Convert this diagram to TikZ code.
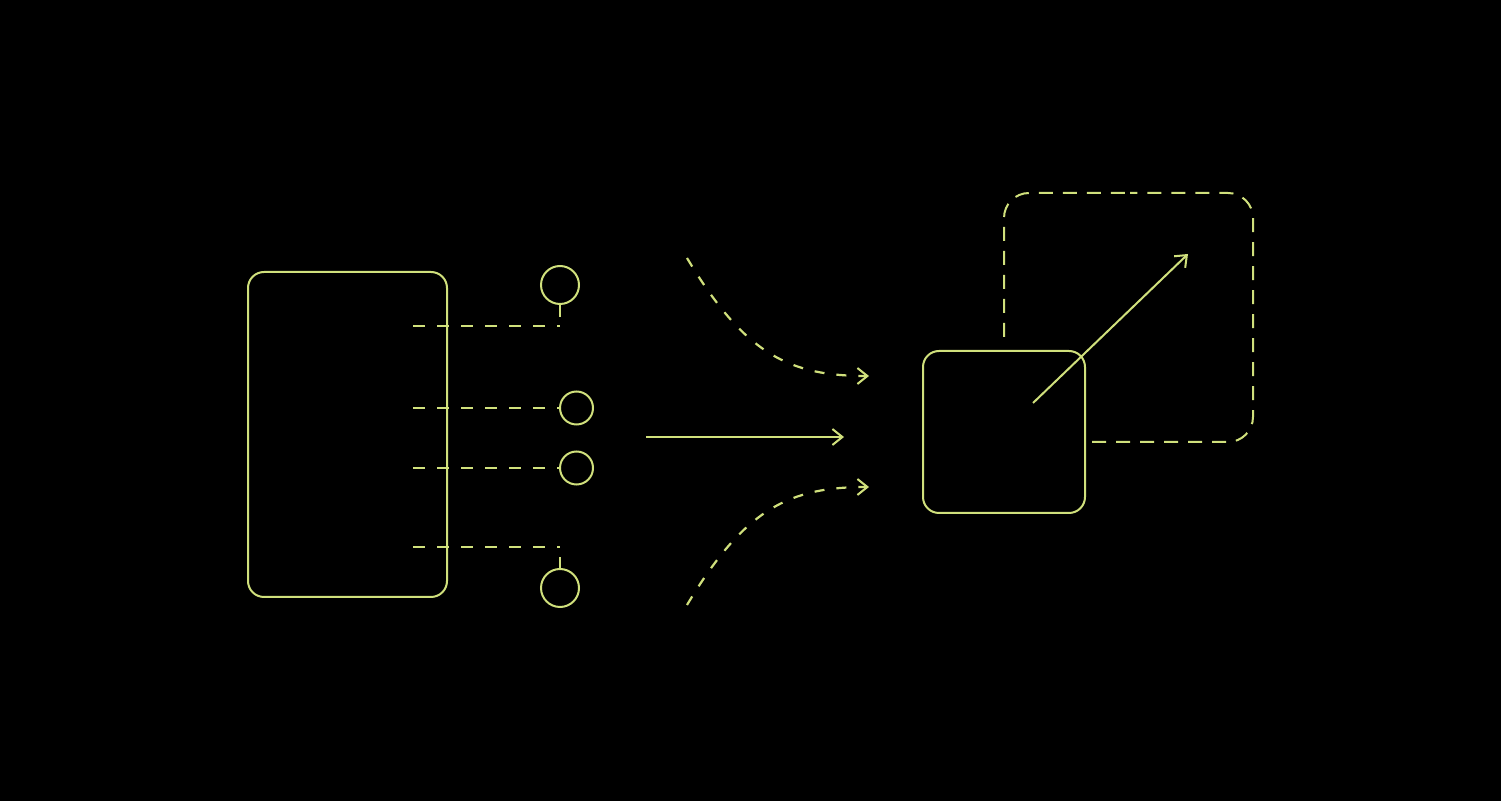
\documentclass[tikz,border=0pt]{standalone}
\usetikzlibrary{arrows.meta}
\definecolor{lime}{RGB}{208,224,124}
\begin{document}
\begin{tikzpicture}[x=0.5pt,y=-0.5pt,
  solidbox/.style={draw=lime, line width=1pt, rounded corners=8pt, inner sep=0pt},
  ring/.style={draw=lime, line width=1pt, circle, inner sep=0pt},
  dline/.style={draw=lime, line width=0.75pt, dash pattern=on 6pt off 6pt},
  dcurve/.style={draw=lime, line width=1.1pt, dash pattern=on 5pt off 6pt, -{Straight Barb[length=5pt,width=8pt,line width=1pt]}},
  stem/.style={draw=lime, line width=1pt},
  arr/.style={draw=lime, line width=1pt, -{Straight Barb[length=5pt,width=8pt,line width=1pt]}},
  dbox/.style={draw=lime, line width=1pt, dash pattern=on 7pt off 5pt, rounded corners=12.5pt}]
\fill[black] (0,0) rectangle (1501,801);
\useasboundingbox (0,0) rectangle (1501,801);

% left box
\node[solidbox, minimum width=99.5pt, minimum height=162.5pt] (L) at (347.5,434.5) {};

% circles
\node[ring, minimum size=19pt] (c1) at (560,285) {};
\node[ring, minimum size=16.5pt] (c2) at (576.5,408) {};
\node[ring, minimum size=16.5pt] (c3) at (576.5,468) {};
\node[ring, minimum size=19pt] (c4) at (560,588) {};

% dashed lines
\coordinate (d1s) at (413,326); \coordinate (d1e) at (560,326);
\coordinate (d2s) at (413,408);
\coordinate (d3s) at (413,468);
\coordinate (d4s) at (413,547); \coordinate (d4e) at (560,547);
\coordinate (s1) at (560,317);
\coordinate (s4) at (560,557);
\draw[dline] (d1s) -- (d1e);
\draw[dline] (d2s) -- (c2.west);
\draw[dline] (d3s) -- (c3.west);
\draw[dline] (d4s) -- (d4e);
\draw[stem] (c1.south) -- (s1);
\draw[stem] (c4.north) -- (s4);

% arrows in middle
\coordinate (t0) at (687,258); \coordinate (t1) at (869,376);
\coordinate (b0) at (687,605); \coordinate (b1) at (869,487);
\coordinate (m0) at (646,437); \coordinate (m1) at (844,437);
\draw[dcurve] (t0) .. controls (745,355) and (790,376) .. (t1);
\draw[dcurve] (b0) .. controls (745,508) and (790,487) .. (b1);
\draw[arr] (m0) -- (m1);

% right side
\coordinate (p0) at (1004,337);
\coordinate (p1) at (1004,193);
\coordinate (pm) at (1130,193);
\coordinate (p2) at (1253,193);
\coordinate (p3) at (1253,442);
\coordinate (p4) at (1092,442);
\draw[dbox] (p4) -- (p3) -- (p2) -- (pm);
\draw[dbox] (p0) -- (p1) -- (pm);
\node[solidbox, minimum width=81pt, minimum height=81pt] (R) at (1004,432) {};
\coordinate (a0) at (1033,403); \coordinate (a1) at (1188,254);
\draw[arr] (a0) -- (a1);
\end{tikzpicture}
\end{document}
